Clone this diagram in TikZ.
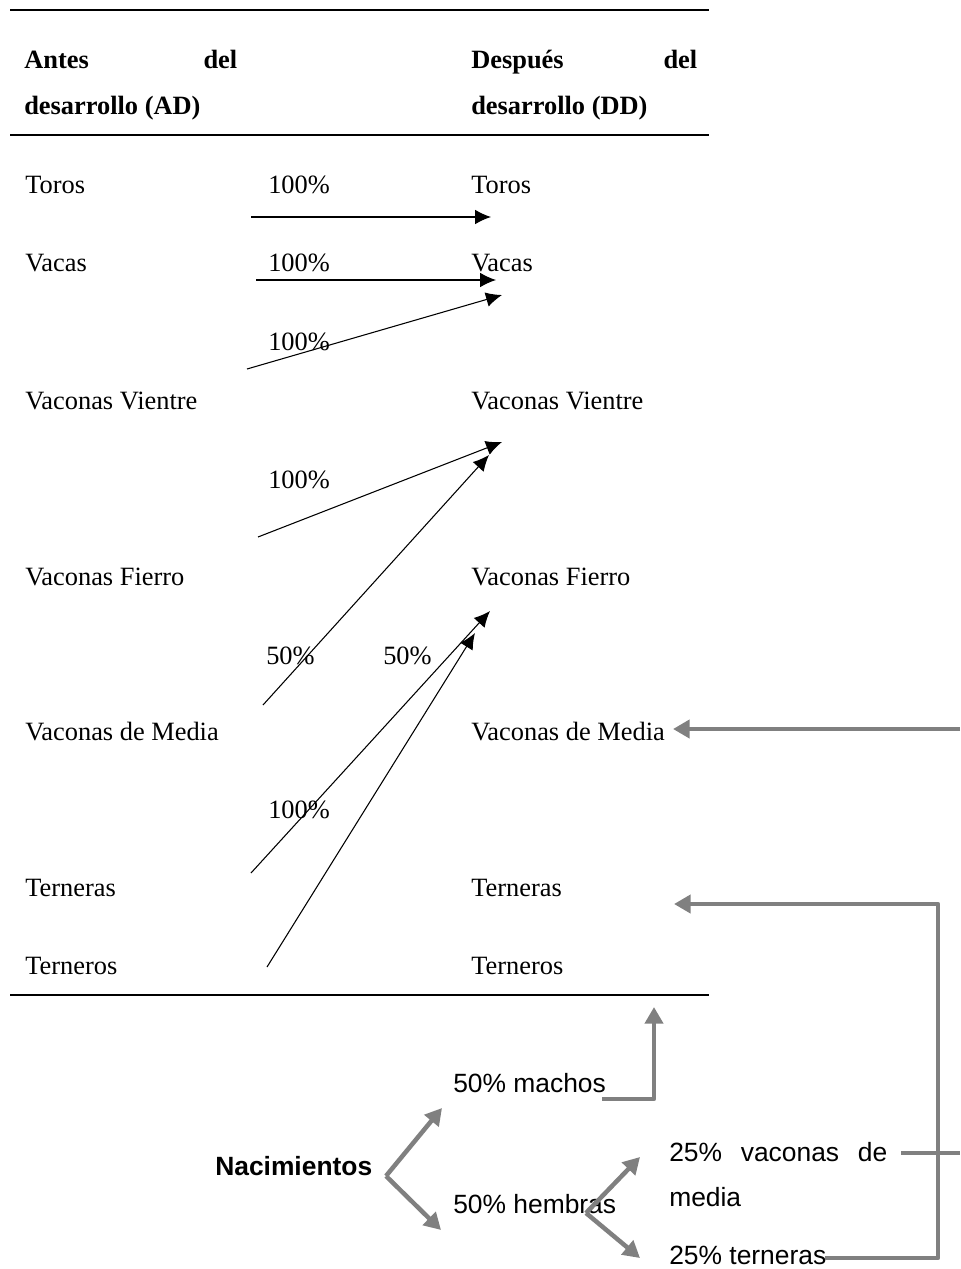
\documentclass[tikz,border=0pt]{standalone}
\usepackage{fontspec}
\setmainfont{Liberation Serif}
\setsansfont{Liberation Sans}
\usetikzlibrary{positioning}
\usetikzlibrary{arrows.meta}
\definecolor{flowgray}{RGB}{128,128,128}

\tikzset{
  cell/.style={anchor=base west,inner sep=0pt,font=\fontsize{19.8}{24}\selectfont},
  headcell/.style={cell,font=\fontsize{19.8}{24}\selectfont\bfseries},
  birth/.style={anchor=base west,inner sep=0pt,font=\sffamily\fontsize{19.8}{24}\selectfont},
  flow/.style={line width=0.8pt,-{Latex[length=12pt,width=11pt]}},
  grayline/.style={flowgray,line width=3.4pt,line join=round},
  grayflow/.style={grayline,-{Triangle[length=12.5pt,width=13.5pt]}},
  tablerule/.style={line width=1.6pt}
}

\begin{document}
\begin{tikzpicture}[x=0.75pt,y=-0.75pt]
				\useasboundingbox (0,0) rectangle (960,1269);

				% table rules
				\draw[tablerule] (10,10) -- (709,10);
				\draw[tablerule] (10,135) -- (709,135);
				\draw[tablerule] (10,995) -- (709,995);

				% header
				\node[headcell](ad1) at (24,69) {\makebox[159.75pt][s]{Antes del}};
				\node[headcell](ad2) at (24,115) {desarrollo (AD)};
				\node[headcell](dd1) at (471,69) {\makebox[169.5pt][s]{Después del}};
				\node[headcell](dd2) at (471,115) {desarrollo (DD)};

				% before
				\node[cell](toros) at (25,194) {Toros};
				\node[cell](vacas) at (25,272) {Vacas};
				\node[cell](vientre) at (25,409) {Vaconas Vientre};
				\node[cell](fierro) at (25,585) {Vaconas Fierro};
				\node[cell](media) at (25,740) {Vaconas de Media};
				\node[cell](terneras) at (25,896) {Terneras};
				\node[cell](terneros) at (25,974) {Terneros};

				% after
				\node[cell](dtoros) at (471,194) {Toros};
				\node[cell](dvacas) at (471,272) {Vacas};
				\node[cell](dvientre) at (471,409) {Vaconas Vientre};
				\node[cell](dfierro) at (471,585) {Vaconas Fierro};
				\node[cell](dmedia) at (471,740) {Vaconas de Media};
				\node[cell](dterneras) at (471,896) {Terneras};
				\node[cell](dterneros) at (471,974) {Terneros};

				% shares
				\node[cell](p1) at (268,194) {100\%};
				\node[cell](p2) at (268,272) {100\%};
				\node[cell](p3) at (268,350) {100\%};
				\node[cell](p4) at (268,488) {100\%};
				\node[cell](p5) at (266,664) {50\%};
				\node[cell](p6) at (383,664) {50\%};
				\node[cell](p7) at (268,818) {100\%};

				\coordinate (s1) at (251,217); \coordinate (e1) at (491,217);
				\coordinate (s2) at (256,280); \coordinate (e2) at (496,280);
				\coordinate (s3) at (247,369); \coordinate (e3) at (502,295);
				\coordinate (s4) at (258,537); \coordinate (e4) at (502,442);
				\coordinate (s5) at (263,705); \coordinate (e5) at (489,455);
				\coordinate (s6) at (251,873); \coordinate (e6) at (490,611);
				\coordinate (s7) at (267,967); \coordinate (e7) at (475,633);

				\draw[flow] (s1) to (e1);
				\draw[flow] (s2) to (e2);
				\draw[flow] (s3) to (e3);
				\draw[flow] (s4) to (e4);
				\draw[flow] (s5) to (e5);
				\draw[flow] (s6) to (e6);
				\draw[flow] (s7) to (e7);

				% births
				\node[birth,font=\sffamily\bfseries\fontsize{19.8}{24}\selectfont](nac) at (215,1175) {Nacimientos};
				\node[birth](machos) at (453,1092) {50\% machos};
				\node[birth](hembras) at (453,1213) {50\% hembras};
				\node[birth](vme) at (669,1161) {\makebox[163.5pt][s]{25\% vaconas de}};
				\node[birth](vme2) at (669,1206) {media};
				\node[birth](tne) at (669,1264) {25\% terneras};

				\coordinate (v1) at (386,1176);
				\coordinate (v1up) at (442,1108);
				\coordinate (v1dn) at (441,1230);
				\coordinate (v2) at (586,1213);
				\coordinate (v2up) at (640,1157);
				\coordinate (v2dn) at (640,1258);
				\coordinate (mstart) at (602,1099);
				\coordinate (mtip) at (654,1007);
				\coordinate (tstart) at (825,1258);
				\coordinate (tcorner) at (938,1258);
				\coordinate (ttip) at (674,904);
				\coordinate (vstart) at (901,1153);
				\coordinate (vend) at (960,1153);
				\coordinate (medstart) at (960,729);
				\coordinate (medtip) at (673,729);

				\draw[grayflow] (v1) to (v1up);
				\draw[grayflow] (v1) to (v1dn);
				\draw[grayflow] (v2) to (v2up);
				\draw[grayflow] (v2) to (v2dn);
				\draw[grayflow] (mstart) -| (mtip);
				\draw[grayflow] (tstart) -- (tcorner) |- (ttip);
				\draw[grayline] (vstart) to (vend);
				\draw[grayflow] (medstart) to (medtip);
			\end{tikzpicture}
\end{document}
